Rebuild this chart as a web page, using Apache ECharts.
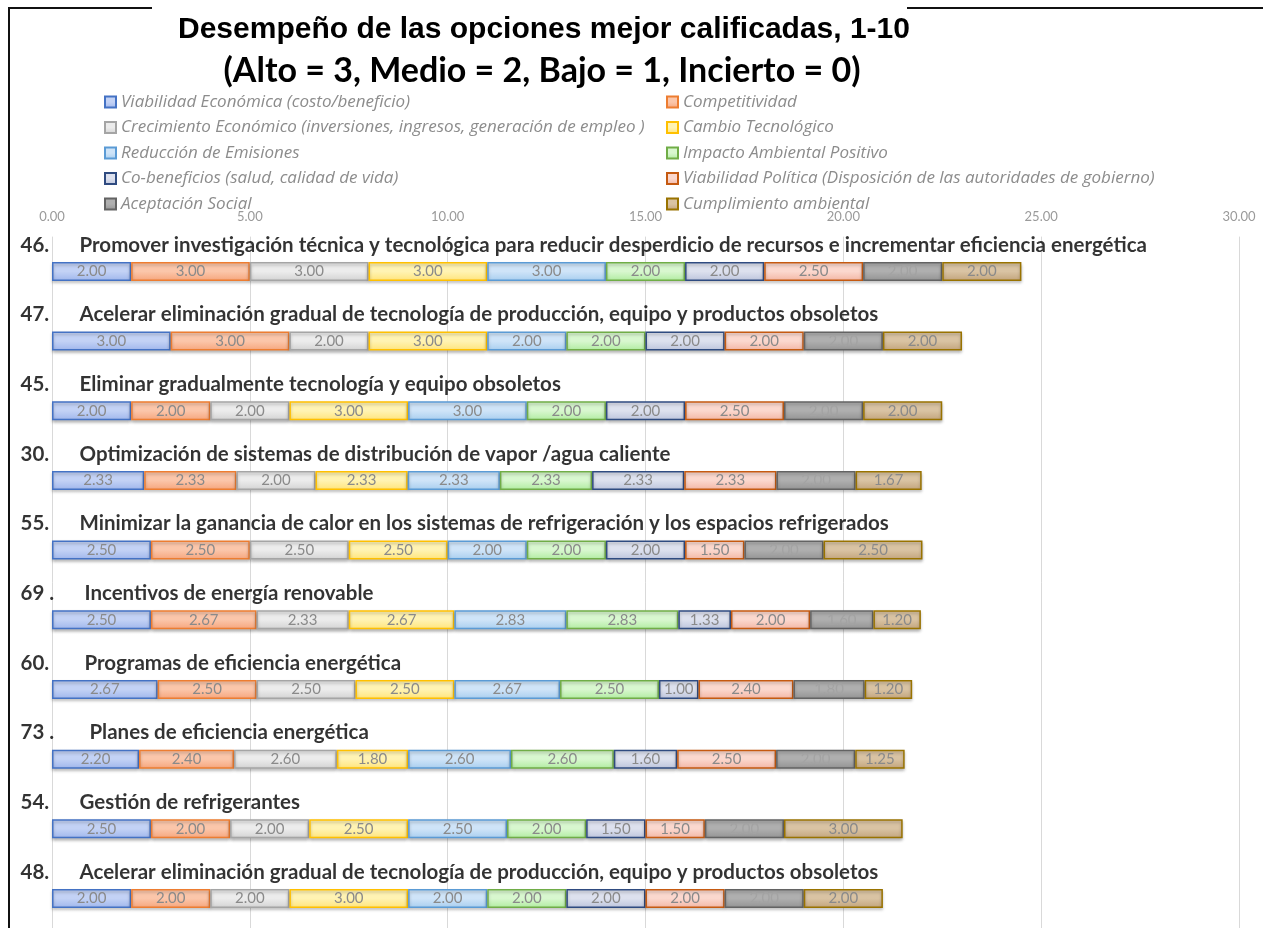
<!DOCTYPE html>
<html>
<head>
<meta charset="utf-8">
<script src="https://cdn.jsdelivr.net/npm/echarts@6/dist/echarts.min.js"></script>
<style>
html,body{margin:0;padding:0;background:#fff;}
#chart{width:1263px;height:928px;}
</style>
</head>
<body>
<div id="chart"></div>
<script>
// ---- data ----
const optionNumbers = ["46.", "47.", "45.", "30.", "55.", "69 .", "60.", "73 .", "54.", "48."];
const optionTitles = [
  "Promover investigación técnica y tecnológica para reducir desperdicio de recursos e incrementar eficiencia energética",
  "Acelerar eliminación gradual de tecnología de producción, equipo y productos obsoletos",
  "Eliminar gradualmente tecnología y equipo obsoletos",
  "Optimización de sistemas de distribución de vapor /agua caliente",
  "Minimizar la ganancia de calor en los sistemas de refrigeración y los espacios refrigerados",
  " Incentivos de energía renovable",
  " Programas de eficiencia energética",
  "  Planes de eficiencia energética",
  "Gestión de refrigerantes",
  "Acelerar eliminación gradual de tecnología de producción, equipo y productos obsoletos"
];
const seriesNames = [
  "Viabilidad Económica (costo/beneficio)",
  "Competitividad",
  "Crecimiento Económico (inversiones, ingresos, generación de empleo )",
  "Cambio Tecnológico",
  "Reducción de Emisiones",
  "Impacto Ambiental Positivo",
  "Co-beneficios (salud, calidad de vida)",
  "Viabilidad Política (Disposición de las autoridades de gobierno)",
  "Aceptación Social",
  "Cumplimiento ambiental"
];
const viabilidadEconomica = [2.00, 3.00, 2.00, 2.33, 2.50, 2.50, 2.67, 2.20, 2.50, 2.00];
const competitividad      = [3.00, 3.00, 2.00, 2.33, 2.50, 2.67, 2.50, 2.40, 2.00, 2.00];
const crecimiento         = [3.00, 2.00, 2.00, 2.00, 2.50, 2.33, 2.50, 2.60, 2.00, 2.00];
const cambioTecnologico   = [3.00, 3.00, 3.00, 2.33, 2.50, 2.67, 2.50, 1.80, 2.50, 3.00];
const reduccionEmisiones  = [3.00, 2.00, 3.00, 2.33, 2.00, 2.83, 2.67, 2.60, 2.50, 2.00];
const impactoAmbiental    = [2.00, 2.00, 2.00, 2.33, 2.00, 2.83, 2.50, 2.60, 2.00, 2.00];
const coBeneficios        = [2.00, 2.00, 2.00, 2.33, 2.00, 1.33, 1.00, 1.60, 1.50, 2.00];
const viabilidadPolitica  = [2.50, 2.00, 2.50, 2.33, 1.50, 2.00, 2.40, 2.50, 1.50, 2.00];
const aceptacionSocial    = [2.00, 2.00, 2.00, 2.00, 2.00, 1.60, 1.80, 2.00, 2.00, 2.00];
const cumplimiento        = [2.00, 2.00, 2.00, 1.67, 2.50, 1.20, 1.20, 1.25, 3.00, 2.00];
const xTicks = [0, 5, 10, 15, 20, 25, 30];

const allValues = [viabilidadEconomica, competitividad, crecimiento, cambioTecnologico,
  reduccionEmisiones, impactoAmbiental, coBeneficios, viabilidadPolitica, aceptacionSocial, cumplimiento];

// ---- styles ----
const styles = [
  {border:'#4472C4', top:'#c3d2f5', bottom:'#9fb6ec'},
  {border:'#ED7D31', top:'#fbc6aa', bottom:'#f6a57c'},
  {border:'#A5A5A5', top:'#ececec', bottom:'#d3d3d3'},
  {border:'#FFC000', top:'#fff3b3', bottom:'#ffe47a'},
  {border:'#5B9BD5', top:'#cfe4f8', bottom:'#a8ceef'},
  {border:'#70AD47', top:'#d8f7cf', bottom:'#b0eca0'},
  {border:'#2F4B80', top:'#dde1ee', bottom:'#bcc4dc'},
  {border:'#C55A11', top:'#fbd8ce', bottom:'#f3b6a4'},
  {border:'#636363', top:'#afafaf', bottom:'#939393'},
  {border:'#997300', top:'#d9c3a3', bottom:'#c2a47c'}
];

const chart = echarts.init(document.getElementById('chart'), null, {renderer:'canvas'});

const barSeries = seriesNames.map((name, i) => ({
  name: name,
  type: 'bar',
  stack: 'total',
  barWidth: 19,
  data: allValues[i],
  itemStyle: {
    color: new echarts.graphic.LinearGradient(0, 0, 0, 1, [
      {offset: 0, color: styles[i].top},
      {offset: 0.5, color: styles[i].top},
      {offset: 1, color: styles[i].bottom}
    ]),
    borderColor: styles[i].border,
    borderWidth: 1.5,
    shadowColor: 'rgba(0,0,0,0.25)',
    shadowBlur: 3,
    shadowOffsetY: 2
  },
  label: {
    show: true,
    position: 'inside',
    formatter: p => p.value.toFixed(2),
    color: i === 8 ? '#a3a3a3' : '#8a8a8a',
    fontFamily: 'Lato',
    fontSize: 15
  },
  emphasis: {disabled: true},
  animation: false
}));

const titleSeries = {
  name: 'titles',
  type: 'scatter',
  symbolSize: 1,
  itemStyle: {color: 'rgba(0,0,0,0)'},
  data: optionNumbers.map((n, i) => [0, i]),
  label: {
    show: true,
    position: [-31, -26],
    align: 'left',
    verticalAlign: 'middle',
    formatter: p => '{n|' + optionNumbers[p.dataIndex] + '}{t|' + optionTitles[p.dataIndex] + '}',
    rich: {
      n: {fontFamily: 'Lato', fontWeight: 'bold', fontSize: 20.5, color: '#000', width: 59},
      t: {fontFamily: 'Lato', fontWeight: 'bold', fontSize: 20.5, color: '#000'}
    }
  },
  silent: true,
  animation: false,
  z: 5
};

const legendText = {fontFamily: 'Open Sans', fontStyle: 'italic', fontSize: 17, color: '#8c8c8c', lineHeight: 18};

const option = {
  backgroundColor: '#fff',
  animation: false,
  title: [
    {
      text: 'Desempeño de las opciones mejor calificadas, 1-10',
      left: 538, top: 15, textAlign: 'center',
      textStyle: {fontFamily: 'Liberation Sans', fontWeight: 'bold', fontSize: 30, color: '#000'},
      backgroundColor: '#fff', padding: [0, 6]
    },
    {
      text: '(Alto = 3, Medio = 2, Bajo = 1, Incierto = 0)',
      left: 537, top: 49, textAlign: 'center',
      textStyle: {fontFamily: 'Lato', fontWeight: 'bold', fontSize: 34, color: '#000'}
    }
  ],
  legend: [
    {
      orient: 'vertical', left: 104, top: 93, padding: 0,
      itemWidth: 11, itemHeight: 11, itemGap: 7.5,
      data: [seriesNames[0], seriesNames[2], seriesNames[4], seriesNames[6], seriesNames[8]],
      textStyle: legendText, selectedMode: false, icon: 'rect'
    },
    {
      orient: 'vertical', left: 666, top: 93, padding: 0,
      itemWidth: 11, itemHeight: 11, itemGap: 7.5,
      data: [seriesNames[1], seriesNames[3], seriesNames[5], seriesNames[7], seriesNames[9]],
      textStyle: legendText, selectedMode: false, icon: 'rect'
    }
  ],
  grid: {left: 52, right: 24, top: 236.6, height: 696.7, outerBoundsMode: 'none', containLabel: false},
  xAxis: {
    type: 'value', min: xTicks[0], max: xTicks[xTicks.length - 1], interval: xTicks[1] - xTicks[0],
    position: 'top',
    axisLine: {show: false}, axisTick: {show: false},
    axisLabel: {formatter: v => v.toFixed(2), color: '#9a9a9a', fontFamily: 'Lato', fontSize: 13, margin: 13},
    splitLine: {show: true, lineStyle: {color: '#d9d9d9', width: 1}}
  },
  yAxis: {
    type: 'category', inverse: true, data: optionNumbers,
    axisLine: {show: false}, axisTick: {show: false}, axisLabel: {show: false}, splitLine: {show: false}
  },
  graphic: [
    {type: 'polyline', shape: {points: [[152, 8], [9, 8], [9, 928]]}, style: {stroke: '#111', lineWidth: 2, fill: null}, silent: true},
    {type: 'line', shape: {x1: 907, y1: 8, x2: 1263, y2: 8}, style: {stroke: '#111', lineWidth: 2}, silent: true}
  ],
  series: barSeries.concat([titleSeries])
};

chart.setOption(option);
</script>
</body>
</html>
